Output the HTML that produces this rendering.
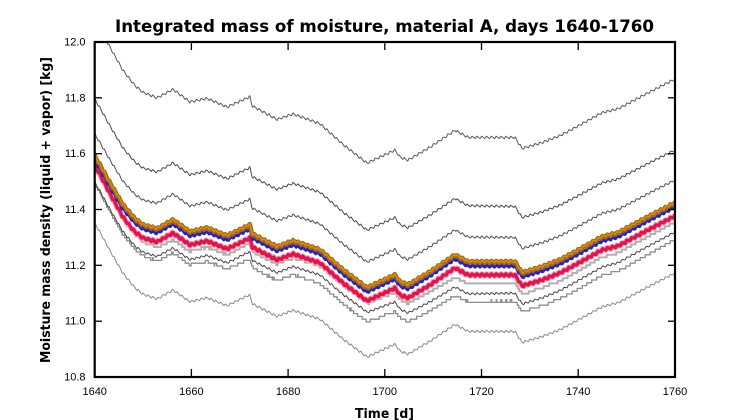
<!DOCTYPE html>
<html><head><meta charset="utf-8">
<style>
html,body{margin:0;padding:0;background:#fff;}
svg{display:block;}
</style></head>
<body>
<svg id="s" width="750" height="420" viewBox="0 0 750 420" xmlns="http://www.w3.org/2000/svg">
<rect x="0" y="0" width="750" height="420" fill="#fff"/>
<defs><clipPath id="pc"><rect x="95" y="43" width="579" height="333"/></clipPath></defs>
<g id="series" clip-path="url(#pc)" fill="none" stroke-linejoin="round"></g>
<g stroke="#000" stroke-width="1.3">
<line x1="191.4" y1="42" x2="191.4" y2="50"/><line x1="288.1" y1="42" x2="288.1" y2="50"/><line x1="384.8" y1="42" x2="384.8" y2="50"/><line x1="481.5" y1="42" x2="481.5" y2="50"/><line x1="578.2" y1="42" x2="578.2" y2="50"/>
<line x1="191.4" y1="377" x2="191.4" y2="369"/><line x1="288.1" y1="377" x2="288.1" y2="369"/><line x1="384.8" y1="377" x2="384.8" y2="369"/><line x1="481.5" y1="377" x2="481.5" y2="369"/><line x1="578.2" y1="377" x2="578.2" y2="369"/>
<line x1="95" y1="97.8" x2="102" y2="97.8"/><line x1="95" y1="153.7" x2="102" y2="153.7"/><line x1="95" y1="209.5" x2="102" y2="209.5"/><line x1="95" y1="265.3" x2="102" y2="265.3"/><line x1="95" y1="321.2" x2="102" y2="321.2"/>
<line x1="675" y1="97.8" x2="668" y2="97.8"/><line x1="675" y1="153.7" x2="668" y2="153.7"/><line x1="675" y1="209.5" x2="668" y2="209.5"/><line x1="675" y1="265.3" x2="668" y2="265.3"/><line x1="675" y1="321.2" x2="668" y2="321.2"/>
</g>
<rect x="94.7" y="42" width="580.3" height="335" fill="none" stroke="#000" stroke-width="2.2"/>
<text x="384.5" y="32" text-anchor="middle" font-family="DejaVu Sans, Liberation Sans, sans-serif" font-weight="bold" font-size="17" textLength="539" lengthAdjust="spacingAndGlyphs">Integrated mass of moisture, material A, days 1640-1760</text>
<g font-family="Liberation Sans, Arial, sans-serif" font-size="11" fill="#000">
<g text-anchor="end">
<text x="85.5" y="45.5">12.0</text>
<text x="85.5" y="101.3">11.8</text>
<text x="85.5" y="157.2">11.6</text>
<text x="85.5" y="213">11.4</text>
<text x="85.5" y="268.8">11.2</text>
<text x="85.5" y="324.7">11.0</text>
<text x="85.5" y="380.5">10.8</text>
</g>
<g text-anchor="middle">
<text x="94.7" y="395">1640</text>
<text x="191.4" y="395">1660</text>
<text x="288.1" y="395">1680</text>
<text x="384.8" y="395">1700</text>
<text x="481.5" y="395">1720</text>
<text x="578.2" y="395">1740</text>
<text x="675" y="395">1760</text>
</g>
</g>
<text x="384.5" y="418" text-anchor="middle" font-family="DejaVu Sans, Liberation Sans, sans-serif" font-weight="bold" font-size="13" textLength="59" lengthAdjust="spacingAndGlyphs">Time [d]</text>
<text transform="translate(50,210) rotate(-90)" x="0" y="0" text-anchor="middle" font-family="DejaVu Sans, Liberation Sans, sans-serif" font-weight="bold" font-size="13" textLength="306" lengthAdjust="spacingAndGlyphs">Moisture mass density (liquid + vapor) [kg]</text>
</svg>
<script>
(function(){
var base=[[94,155],[100,165],[110,183],[123,205],[135,219],[143,225],[157,229],[173,220],[190,232],[207,228],[227,236],[250,225],[252,234],[277,247],[293,241],[320,250],[343,270],[367,288],[380,282],[395,275],[400,282],[408,285],[430,272],[455,255],[468,262],[515,262],[522,273],[542,267],[560,260],[575,252],[602,237],[618,233],[648,217],[675,203]];
function interp(p,x){if(x<=p[0][0])return p[0][1];for(var i=1;i<p.length;i++){if(x<=p[i][0]){var a=p[i-1],b=p[i];return a[1]+(b[1]-a[1])*(x-a[0])/(b[0]-a[0]);}}return p[p.length-1][1];}
function smooth(x,w){var s=0,n=0;for(var d=-w;d<=w;d+=0.5){s+=interp(base,x+d);n++;}return s/n;}
function saw(x,ph){var d=(x-94.7)/4.836+ph;var f=d-Math.floor(d);var t=f<0.7?f/0.7:(1-f)/0.3;return t-0.5;}
var series=[
 {off:[[94,-142],[107,-136],[160,-131],[363,-125],[675,-124]],c:"#5a5a5a",w:1,amp:2.6,sm:0},
 {off:[[94,-57],[160,-57],[363,-58],[675,-53]],c:"#4a4a4a",w:1,amp:2.4,sm:0},
 {off:[[94,-22],[160,-26],[363,-26],[675,-23]],c:"#505050",w:1,amp:2.4,sm:0},
 {off:[[94,67],[160,70],[363,69],[675,70]],c:"#8a8a8a",w:1,amp:2.4,sm:1},
 {off:[[94,28],[175,33],[363,34],[455,40],[675,37]],c:"#8c8c8c",w:1.3,amp:1.2,sm:2,step:2.8},
 {off:[[94,26],[175,28],[363,24],[455,32],[675,29]],c:"#484848",w:1,amp:2.2,sm:1},
 {off:[[94,12],[175,20],[363,15],[455,22],[675,19]],c:"#b0b0b0",w:2,amp:1,sm:2,step:2.6},
 {off:[[94,9],[130,13],[675,13]],c:"#f4a6b8",w:5.5,amp:2.4,sm:0},
 {off:[[94,9],[130,13],[675,13]],c:"#e3134d",w:3.4,amp:2.4,sm:0},
 {off:[[94,4],[675,4]],c:"#2222cc",w:3,amp:2.4,sm:0},
 {off:[[94,0],[675,0]],c:"#a86606",w:4.4,amp:2.4,sm:0},
 {off:[[94,-0.5],[675,-0.5]],c:"#d88e1c",w:1.4,amp:2.4,sm:0}
];
var g=document.getElementById("series");var ns="http://www.w3.org/2000/svg";
series.forEach(function(s){
 var d="",prevY=null;
 for(var x=94.7;x<=675.5;x+=0.5){
  var by=s.sm?smooth(x,s.sm):interp(base,x);
  var y=by+interp(s.off,x)+s.amp*saw(x,0);
  if(s.step){y=Math.round(y/s.step)*s.step;}
  if(d===""){d="M"+x.toFixed(1)+" "+y.toFixed(1);}
  else if(s.step){ if(y!==prevY){d+="L"+x.toFixed(1)+" "+prevY.toFixed(1)+"L"+x.toFixed(1)+" "+y.toFixed(1);} }
  else d+="L"+x.toFixed(1)+" "+y.toFixed(1);
  prevY=y;
 }
 if(s.step)d+="L675.5 "+prevY.toFixed(1);
 var p=document.createElementNS(ns,"path");p.setAttribute("d",d);p.setAttribute("stroke",s.c);p.setAttribute("stroke-width",s.w);g.appendChild(p);
});
})();
</script>
</body></html>
